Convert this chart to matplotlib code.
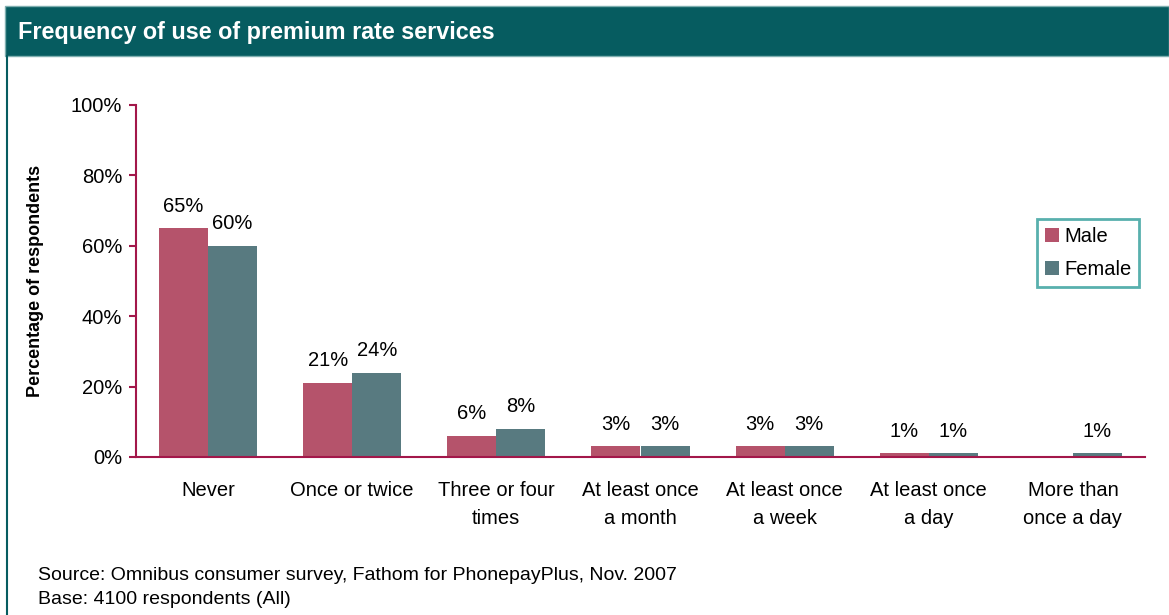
import matplotlib.pyplot as plt
import numpy as np
from matplotlib.patches import Rectangle
from matplotlib.lines import Line2D

plt.rcParams['font.family'] = ['Liberation Sans', 'DejaVu Sans']

categories = ["Never", "Once or twice", "Three or four\ntimes", "At least once\na month",
              "At least once\na week", "At least once\na day", "More than\nonce a day"]
male = [65, 21, 6, 3, 3, 1, 0]
female = [60, 24, 8, 3, 3, 1, 1]

male_col = '#B5536B'
female_col = '#587A80'
axis_col = '#A3174A'
teal = '#065C60'
fs = 14.5

fig = plt.figure(figsize=(11.69, 6.15), dpi=100)

# header band and left frame line
fig.patches.append(Rectangle((5/1169, 1-56/615), 1-5/1169, 50/615, transform=fig.transFigure,
                             facecolor=teal, edgecolor='#7FAFB0', lw=1, zorder=0))
fig.lines.append(Line2D([7/1169, 7/1169], [0, 1-56/615], transform=fig.transFigure,
                        color=teal, lw=1.5))
fig.text(18/1169, 1-33/615, "Frequency of use of premium rate services", color='white',
         fontsize=16.8, fontweight='bold', va='center', ha='left')

ax = fig.add_axes([136/1169, 1-457/615, (1145-136)/1169, 352/615])
x = np.arange(len(categories))
w = 0.34
b1 = ax.bar(x - w/2, male, w, color=male_col, label='Male', zorder=2)
b2 = ax.bar(x + w/2, female, w, color=female_col, label='Female', zorder=2)

for rect, v in zip(b1, male):
    if v > 0:
        ax.text(rect.get_x() + rect.get_width()/2, v + 3.6, f"{v}%", ha='center', va='bottom', fontsize=fs)
for rect, v in zip(b2, female):
    ax.text(rect.get_x() + rect.get_width()/2, v + 3.6, f"{v}%", ha='center', va='bottom', fontsize=fs)

ax.set_xlim(-0.5, len(categories) - 0.5)
ax.set_ylim(0, 100)
ax.set_yticks(range(0, 101, 20))
ax.set_yticklabels([f"{t}%" for t in range(0, 101, 20)], fontsize=fs)
ax.set_xticks(x)
ax.set_xticklabels(categories, fontsize=fs, linespacing=1.6)
ax.tick_params(axis='x', length=0, pad=17)
ax.tick_params(axis='y', length=5, color=axis_col, width=1.5, pad=5)
for s in ['top', 'right']:
    ax.spines[s].set_visible(False)
for s in ['left', 'bottom']:
    ax.spines[s].set_color(axis_col)
    ax.spines[s].set_linewidth(1.5)
ax.set_ylabel("Percentage of respondents", fontsize=13, fontweight='bold')
ax.yaxis.set_label_coords(-0.091, 0.5)

leg = ax.legend(loc='upper left', bbox_to_anchor=(1037/1169, 1-219/615), bbox_transform=fig.transFigure,
                fontsize=fs, frameon=True, fancybox=False, handlelength=0.7, handleheight=0.7,
                handletextpad=0.25, borderpad=0.4, labelspacing=0.7, borderaxespad=0)
leg.get_frame().set_edgecolor('#2E9C99')
leg.get_frame().set_linewidth(2)

fig.text(38/1169, 1-576/615, "Source: Omnibus consumer survey, Fathom for PhonepayPlus, Nov. 2007",
         fontsize=14, va='center')
fig.text(38/1169, 1-599/615, "Base: 4100 respondents (All)", fontsize=14, va='center')

fig.savefig('out.png', dpi=100)
